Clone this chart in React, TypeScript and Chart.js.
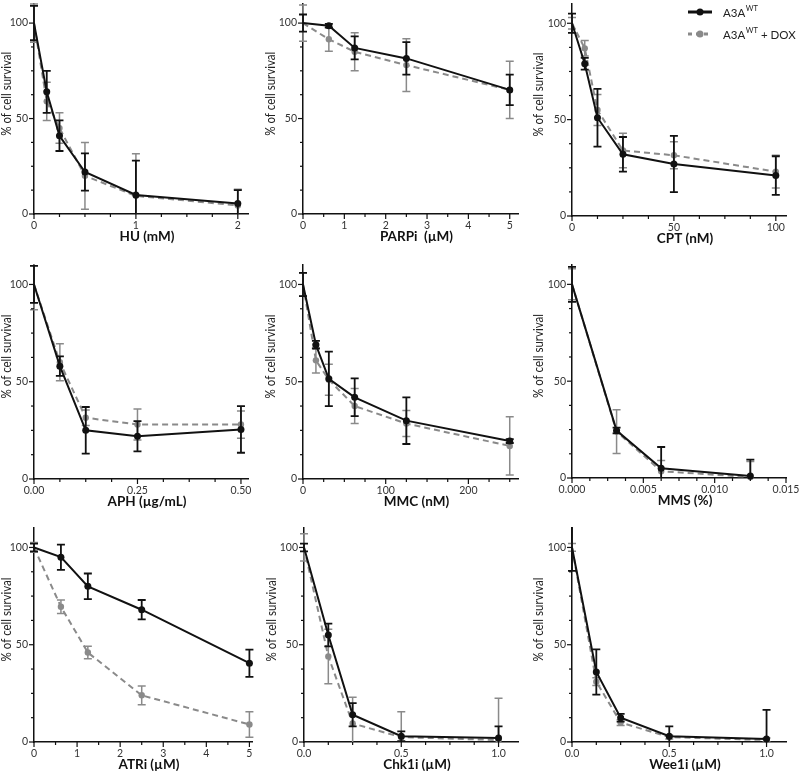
import React, { useEffect, useRef } from 'react';
import { Chart, registerables } from 'chart.js';
Chart.register(...registerables);

// ---------- data ----------
const yTicks = [0, 50, 100];

const huDose = [0, 0.125, 0.25, 0.5, 1, 2];
const huWT = [100, 64, 41, 22, 10, 5.5];
const huWTErr = [9, 11, 8, 9.8, 18, 7];
const huDOX = [100, 59, 45, 20, 9.5, 4.5];
const huDOXErr = [10, 10, 8, 17.5, 22, 8.5];
const huTicks = [0, 1, 2];

const parpDose = [0, 0.625, 1.25, 2.5, 5];
const parpWT = [100, 98.6, 87, 81.5, 65];
const parpWTErr = [4.5, 1, 6, 8.5, 8];
const parpDOX = [100, 91.5, 85, 78, 65];
const parpDOXErr = [9.5, 6.3, 10, 13.8, 15];
const parpTicks = [0, 1, 2, 3, 4, 5];

const cptDose = [0, 6.25, 12.5, 25, 50, 100];
const cptWT = [100, 79, 51, 32, 27, 21];
const cptWTErr = [5, 3, 15, 9, 14.6, 10];
const cptDOX = [100, 87, 55, 34, 31.5, 23];
const cptDOXErr = [3, 4, 8, 9, 7, 8.5];
const cptTicks = [0, 50, 100];

const aphDose = [0, 0.0625, 0.125, 0.25, 0.5];
const aphWT = [100, 58, 25, 22, 25.5];
const aphWTErr = [9.5, 5, 12, 7.8, 12];
const aphDOX = [100, 60, 31.5, 28, 28];
const aphDOXErr = [13, 9.5, 4, 8, 7];
const aphTicks = [0, 0.25, 0.5];

const mmcDose = [0, 15.625, 31.25, 62.5, 125, 250];
const mmcWT = [100, 69, 51.5, 42, 30, 19.5];
const mmcWTErr = [6, 2, 14, 9.7, 12, 1];
const mmcDOX = [100, 61, 51, 37.5, 28.5, 17];
const mmcDOXErr = [6, 6.5, 8, 9, 6.7, 15];
const mmcTicks = [0, 100, 200];

const mmsDose = [0, 0.003125, 0.00625, 0.0125];
const mmsWT = [100, 24.5, 5, 1];
const mmsWTErr = [9, 1.5, 11, 8.5];
const mmsDOX = [100, 24, 3.5, 0.5];
const mmsDOXErr = [8, 11.3, 5.5, 8];
const mmsTicks = [0, 0.005, 0.01, 0.015];

const atrDose = [0, 0.625, 1.25, 2.5, 5];
const atrWT = [100, 95, 80, 68, 40.5];
const atrWTErr = [2, 6.5, 6.6, 5, 7];
const atrDOX = [100, 69.5, 46, 24, 9];
const atrDOXErr = [2.5, 3.5, 3.2, 4.8, 6.6];
const atrTicks = [0, 1, 2, 3, 4, 5];

const chkDose = [0, 0.125, 0.25, 0.5, 1];
const chkWT = [100, 55, 14, 3, 2];
const chkWTErr = [2, 5.8, 6, 2.5, 6];
const chkDOX = [100, 44, 9.5, 2.5, 1];
const chkDOXErr = [7, 14, 13.5, 13, 21.5];
const chkTicks = [0, 0.5, 1];

const weeDose = [0, 0.125, 0.25, 0.5, 1];
const weeWT = [100, 36, 12.5, 3, 1.5];
const weeWTErr = [12, 11.6, 2, 5, 15];
const weeDOX = [100, 31, 10, 2.5, 1];
const weeDOXErr = [2, 2, 1.5, 1, 1];
const weeTicks = [0, 0.5, 1];

// ---------- styling ----------
const BLACK = '#111111';
const GRAY = '#8a8a8a';
const FONT = 'Lato, "Open Sans", sans-serif';

type Panel = {
  title: string;
  dose: number[]; wt: number[]; wtErr: number[]; dox: number[]; doxErr: number[];
  ticks: number[]; dec: number; xMax: number; minor: number;
  cell: [number, number, number, number];
  axisX: number; xEnd: number; y0: number; yTop: number; titleOff: number; legend?: boolean;
};

const panels: Panel[] = [
  { title: 'HU (mM)', dose: huDose, wt: huWT, wtErr: huWTErr, dox: huDOX, doxErr: huDOXErr, ticks: huTicks, dec: 0, xMax: 2.1, minor: 0.25,
    cell: [0, 0, 262, 256], axisX: 34, xEnd: 248, y0: 214, yTop: 0, titleOff: 27 },
  { title: 'PARPi  (µM)', dose: parpDose, wt: parpWT, wtErr: parpWTErr, dox: parpDOX, doxErr: parpDOXErr, ticks: parpTicks, dec: 0, xMax: 5.2, minor: 0.5,
    cell: [262, 0, 266, 256], axisX: 303, xEnd: 518, y0: 214, yTop: 0, titleOff: 32 },
  { title: 'CPT (nM)', dose: cptDose, wt: cptWT, wtErr: cptWTErr, dox: cptDOX, doxErr: cptDOXErr, ticks: cptTicks, dec: 0, xMax: 105, minor: 12.5,
    cell: [528, 0, 272, 256], axisX: 572, xEnd: 786, y0: 216, yTop: 3, titleOff: 33, legend: true },
  { title: 'APH (µg/mL)', dose: aphDose, wt: aphWT, wtErr: aphWTErr, dox: aphDOX, doxErr: aphDOXErr, ticks: aphTicks, dec: 2, xMax: 0.517, minor: 0.0625,
    cell: [0, 256, 262, 256], axisX: 34, xEnd: 248, y0: 479, yTop: 265, titleOff: 27 },
  { title: 'MMC (nM)', dose: mmcDose, wt: mmcWT, wtErr: mmcWTErr, dox: mmcDOX, doxErr: mmcDOXErr, ticks: mmcTicks, dec: 0, xMax: 260, minor: 25,
    cell: [262, 256, 266, 256], axisX: 303, xEnd: 518, y0: 479, yTop: 265, titleOff: 32 },
  { title: 'MMS (%)', dose: mmsDose, wt: mmsWT, wtErr: mmsWTErr, dox: mmsDOX, doxErr: mmsDOXErr, ticks: mmsTicks, dec: 3, xMax: 0.015, minor: 0.00125,
    cell: [528, 256, 272, 256], axisX: 572, xEnd: 786, y0: 478, yTop: 265, titleOff: 33 },
  { title: 'ATRi (µM)', dose: atrDose, wt: atrWT, wtErr: atrWTErr, dox: atrDOX, doxErr: atrDOXErr, ticks: atrTicks, dec: 0, xMax: 5.06, minor: 0.5,
    cell: [0, 512, 262, 259], axisX: 34, xEnd: 252, y0: 742, yTop: 528, titleOff: 27 },
  { title: 'Chk1i (µM)', dose: chkDose, wt: chkWT, wtErr: chkWTErr, dox: chkDOX, doxErr: chkDOXErr, ticks: chkTicks, dec: 1, xMax: 1.1, minor: 0.125,
    cell: [262, 512, 266, 259], axisX: 304, xEnd: 518, y0: 742, yTop: 528, titleOff: 32 },
  { title: 'Wee1i (µM)', dose: weeDose, wt: weeWT, wtErr: weeWTErr, dox: weeDOX, doxErr: weeDOXErr, ticks: weeTicks, dec: 1, xMax: 1.1, minor: 0.125,
    cell: [528, 512, 272, 259], axisX: 572, xEnd: 786, y0: 742, yTop: 528, titleOff: 33 },
];

function drawSupLabel(ctx: CanvasRenderingContext2D, x: number, y: number, suffix: string) {
  ctx.font = `11.5px ${FONT}`;
  ctx.textAlign = 'left';
  ctx.textBaseline = 'middle';
  ctx.fillStyle = '#222';
  ctx.fillText('A3A', x, y);
  const w = ctx.measureText('A3A').width;
  ctx.font = `7.5px ${FONT}`;
  ctx.fillText('WT', x + w + 0.5, y - 4);
  const w2 = ctx.measureText('WT').width;
  if (suffix) {
    ctx.font = `11.5px ${FONT}`;
    ctx.fillText(suffix, x + w + 0.5 + w2, y);
  }
}

function makePlugin(p: Panel) {
  return {
    id: 'decor',
    beforeDatasetDraw(chart: any, args: any) {
      const ds = chart.data.datasets[args.index];
      const xs = chart.scales.x, ys = chart.scales.y;
      const ctx: CanvasRenderingContext2D = chart.ctx;
      const ca = chart.chartArea;
      ctx.save();
      ctx.beginPath();
      ctx.rect(0, ca.top - 1, chart.width, ca.bottom - ca.top + 1);
      ctx.clip();
      ctx.strokeStyle = ds.errColor;
      ctx.lineWidth = ds.errWidth;
      ctx.setLineDash([]);
      ds.data.forEach((pt: any, i: number) => {
        const e = ds.errors[i];
        if (!e) return;
        const px = xs.getPixelForValue(pt.x);
        const hi = ys.getPixelForValue(pt.y + e);
        const lo = ys.getPixelForValue(pt.y - e);
        ctx.beginPath();
        ctx.moveTo(px, hi); ctx.lineTo(px, lo);
        ctx.moveTo(px - 4, hi); ctx.lineTo(px + 4, hi);
        ctx.moveTo(px - 4, lo); ctx.lineTo(px + 4, lo);
        ctx.stroke();
      });
      ctx.restore();
    },
    afterDraw(chart: any) {
      const ctx: CanvasRenderingContext2D = chart.ctx;
      const ca = chart.chartArea;
      const xs = chart.scales.x, ys = chart.scales.y;
      ctx.save();
      ctx.strokeStyle = BLACK;
      ctx.lineWidth = 1.2;
      // x ticks
      const nx = Math.round(p.xMax / p.minor + 1e-6);
      for (let i = 0; i <= nx; i++) {
        const v = i * p.minor;
        if (v > p.xMax + 1e-9) break;
        const major = p.ticks.some((t) => Math.abs(t - v) < p.minor / 100);
        const px = xs.getPixelForValue(v);
        ctx.beginPath();
        ctx.moveTo(px, ca.bottom);
        ctx.lineTo(px, ca.bottom + (major ? 5 : 3));
        ctx.stroke();
      }
      // y ticks
      for (let i = 0; i <= 8; i++) {
        const v = i * 12.5;
        const major = yTicks.includes(v);
        const py = ys.getPixelForValue(v);
        ctx.beginPath();
        ctx.moveTo(ca.left, py);
        ctx.lineTo(ca.left - (major ? 5 : 3), py);
        ctx.stroke();
      }
      // x title
      ctx.fillStyle = '#111';
      ctx.font = `bold 13.5px ${FONT}`;
      ctx.textAlign = 'center';
      ctx.textBaseline = 'middle';
      ctx.fillText(p.title, (ca.left + ca.right) / 2 + 6, ca.bottom + 23);
      // y title (condensed to the reference's width)
      ctx.save();
      ctx.translate(ca.left - p.titleOff, ys.getPixelForValue(63));
      ctx.rotate(-Math.PI / 2);
      ctx.font = `13px ${FONT}`;
      ctx.fillStyle = '#222';
      const tw = ctx.measureText('% of cell survival').width;
      const sx = Math.min(1, 84 / tw);
      ctx.scale(sx, 1);
      ctx.fillText('% of cell survival', 0, 0);
      ctx.restore();
      // legend
      if (p.legend) {
        const lx = ca.right - 98;
        const ly1 = 12 - p.cell[1];
        const ly2 = 34 - p.cell[1];
        ctx.setLineDash([]);
        ctx.strokeStyle = BLACK;
        ctx.lineWidth = 3;
        ctx.beginPath(); ctx.moveTo(lx, ly1); ctx.lineTo(lx + 24, ly1); ctx.stroke();
        ctx.fillStyle = BLACK;
        ctx.beginPath(); ctx.arc(lx + 12, ly1, 3.5, 0, Math.PI * 2); ctx.fill();
        ctx.strokeStyle = GRAY;
        ctx.lineWidth = 3;
        ctx.setLineDash([4, 4]);
        ctx.beginPath(); ctx.moveTo(lx, ly2); ctx.lineTo(lx + 24, ly2); ctx.stroke();
        ctx.setLineDash([]);
        ctx.fillStyle = GRAY;
        ctx.beginPath(); ctx.arc(lx + 12, ly2, 3.5, 0, Math.PI * 2); ctx.fill();
        drawSupLabel(ctx, lx + 35, ly1 + 1, '');
        drawSupLabel(ctx, lx + 35, ly2 + 1, ' + DOX');
      }
      ctx.restore();
    },
  };
}

function PanelChart({ p }: { p: Panel }) {
  const ref = useRef<HTMLCanvasElement | null>(null);
  useEffect(() => {
    if (!ref.current) return;
    const [cx, cy, cw, ch] = p.cell;
    const zeroPad = (s: any) => {
      s.paddingLeft = 0; s.paddingRight = 0; s.paddingTop = 0; s.paddingBottom = 0;
    };
    const radius = (r: number) => (c: any) => (c.dataIndex === 0 ? 0 : r);
    const chart = new Chart(ref.current, {
      type: 'line',
      data: {
        datasets: [
          {
            label: 'A3A WT',
            data: p.dose.map((x, i) => ({ x, y: p.wt[i] })),
            errors: p.wtErr, errColor: BLACK, errWidth: 1.8,
            borderColor: BLACK, backgroundColor: BLACK, borderWidth: 2,
            pointRadius: radius(3.5), pointBackgroundColor: BLACK, pointBorderWidth: 0,
            tension: 0, clip: false,
          } as any,
          {
            label: 'A3A WT + DOX',
            data: p.dose.map((x, i) => ({ x, y: p.dox[i] })),
            errors: p.doxErr, errColor: GRAY, errWidth: 1.5,
            borderColor: GRAY, backgroundColor: GRAY, borderWidth: 2, borderDash: [6, 4],
            pointRadius: radius(3.2), pointBackgroundColor: GRAY, pointBorderWidth: 0,
            tension: 0, clip: false,
          } as any,
        ],
      },
      options: {
        responsive: false,
        animation: false,
        devicePixelRatio: 1,
        events: [],
        layout: { padding: { left: 0, top: p.yTop - cy, right: cx + cw - p.xEnd, bottom: 0 } },
        plugins: { legend: { display: false }, tooltip: { enabled: false } },
        scales: {
          x: {
            type: 'linear', min: 0, max: p.xMax,
            grid: { display: false, drawTicks: false },
            border: { display: true, color: BLACK, width: 1.5 },
            ticks: {
              padding: 5, autoSkip: false, maxRotation: 0, color: '#333',
              font: { family: FONT, size: 10.5 },
              callback: (v: any) => Number(v).toFixed(p.dec),
            },
            afterBuildTicks: (s: any) => { s.ticks = p.ticks.map((v) => ({ value: v })); },
            afterFit: (s: any) => { s.height = cy + ch - p.y0; zeroPad(s); },
          },
          y: {
            type: 'linear', min: 0, max: 110,
            grid: { display: false, drawTicks: false },
            border: { display: true, color: BLACK, width: 1.5 },
            ticks: {
              padding: 6, autoSkip: false, color: '#333',
              font: { family: FONT, size: 10.5 },
              callback: (v: any) => String(v),
            },
            afterBuildTicks: (s: any) => { s.ticks = yTicks.map((v) => ({ value: v })); },
            afterFit: (s: any) => { s.width = p.axisX - cx; zeroPad(s); },
          },
        },
      } as any,
      plugins: [makePlugin(p) as any],
    });
    return () => chart.destroy();
  }, [p]);
  const [cx, cy, cw, ch] = p.cell;
  return (
    <canvas
      ref={ref}
      width={cw}
      height={ch}
      style={{ position: 'absolute', left: cx, top: cy, width: cw, height: ch }}
    />
  );
}

export default function App() {
  return (
    <div style={{ position: 'absolute', left: 0, top: 0, width: 800, height: 771, background: '#fff', overflow: 'hidden' }}>
      {panels.map((p, i) => (
        <PanelChart key={i} p={p} />
      ))}
    </div>
  );
}
